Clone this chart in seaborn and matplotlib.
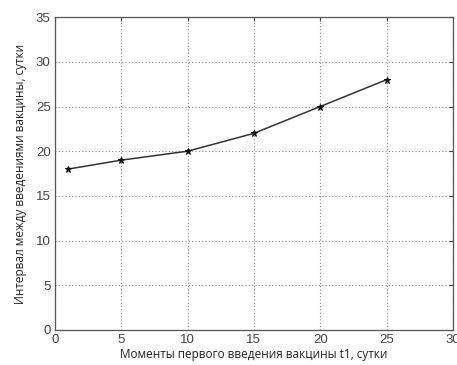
import matplotlib
matplotlib.use("Agg")
import matplotlib.pyplot as plt
import seaborn as sns
import pandas as pd

# moments of first vaccine dose vs interval between doses
t1 = [1, 5, 10, 15, 20, 25]
interval = [18, 19, 20, 22, 25, 28]
x_ticks = [0, 5, 10, 15, 20, 25, 30]
y_ticks = [0, 5, 10, 15, 20, 25, 30, 35]

sns.set_style("white")
plt.rcParams["font.family"] = ["Liberation Sans", "DejaVu Sans"]

df = pd.DataFrame({"t1": t1, "interval": interval})

fig = plt.figure(figsize=(4.57, 3.65), dpi=100)
ax = fig.add_axes([0.120, 0.096, 0.871, 0.857])

sns.lineplot(data=df, x="t1", y="interval", ax=ax, color="#333333",
             linewidth=1.1, marker="*", markersize=5,
             markeredgecolor="#111111", markerfacecolor="#111111")

ax.set_xlim(0, 30)
ax.set_ylim(0, 35)
ax.set_xticks(x_ticks)
ax.set_yticks(y_ticks)
ax.grid(True, linestyle=(0, (1, 2)), color="#888888", linewidth=0.8)
ax.tick_params(direction="in", length=3, top=True, right=True,
               labelsize=9.5, colors="#444444", pad=3)
for s in ax.spines.values():
    s.set_color("#555555")
    s.set_linewidth(0.9)

ax.set_xlabel("Моменты первого введения вакцины t1, сутки", fontsize=8.5,
              family=["Open Sans", "DejaVu Sans"], color="#222222", labelpad=1)
ax.set_ylabel("Интервал между введениями вакцины, сутки", fontsize=8.5,
              family=["Open Sans", "DejaVu Sans"], color="#222222", labelpad=6)

fig.savefig("out.png", dpi=100)
